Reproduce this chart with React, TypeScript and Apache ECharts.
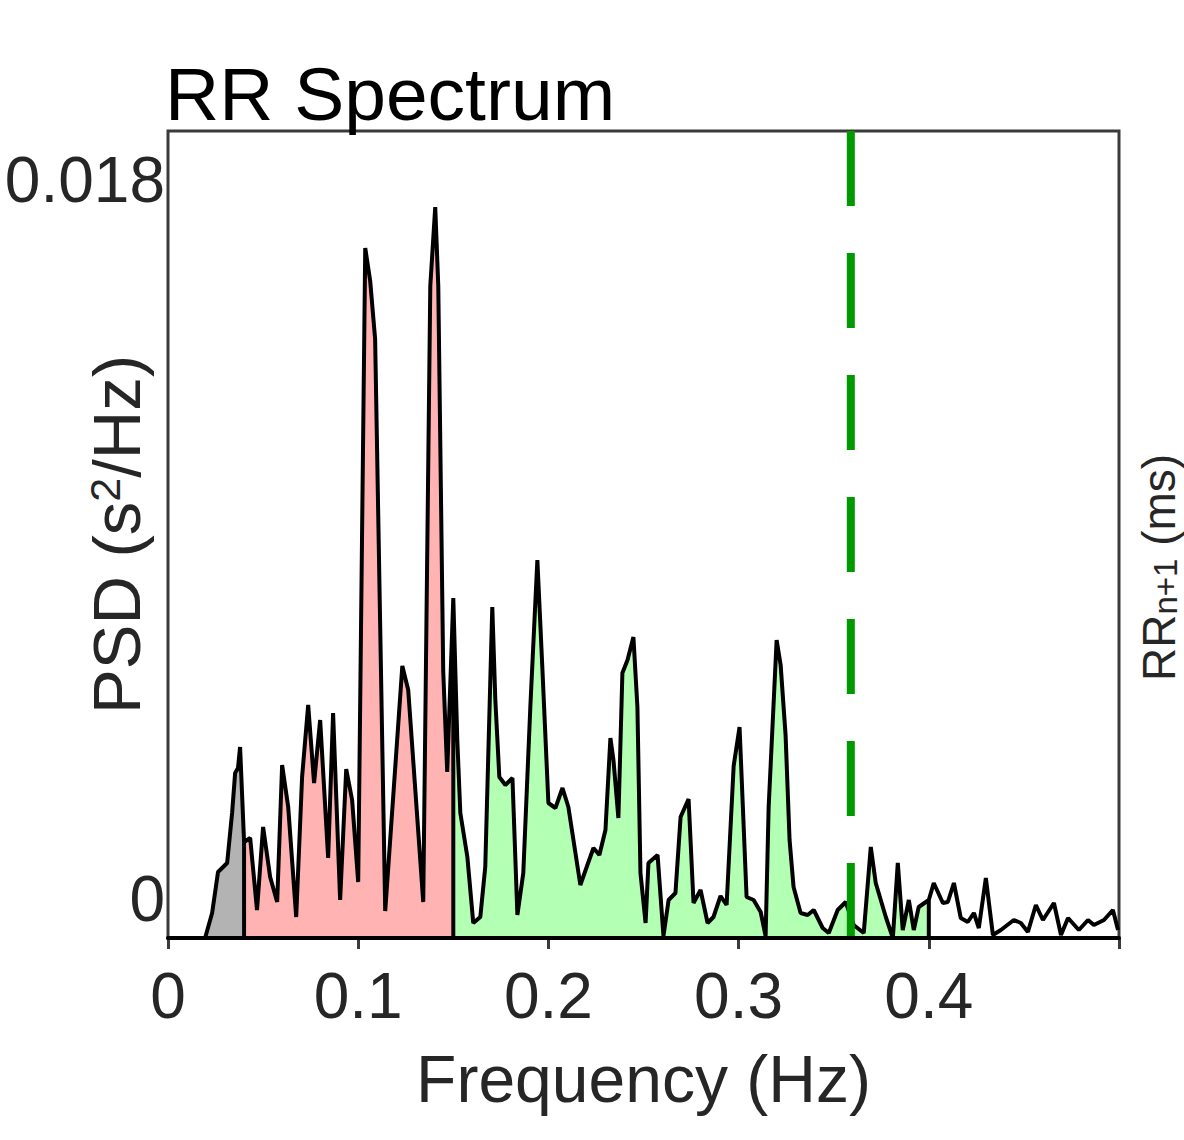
import React, { useEffect, useRef } from "react";
import * as echarts from "echarts";

// Frequency (Hz) of each spectrum vertex
const freqs = [
  0, 0.0195, 0.0232, 0.0263, 0.0311, 0.0337, 0.0353, 0.0368, 0.0379, 0.04,
  0.0432, 0.0468, 0.05, 0.0537, 0.0574, 0.06, 0.0632, 0.0674, 0.0705, 0.0737,
  0.0768, 0.08, 0.0842, 0.0868, 0.0905, 0.0937, 0.0968, 0.1, 0.1037, 0.1063,
  0.1089, 0.1142, 0.1232, 0.1263, 0.1342, 0.1379, 0.1405, 0.1421, 0.1447, 0.1468,
  0.15,
  0.1521, 0.1537, 0.1574, 0.1605, 0.1642, 0.1668, 0.1705, 0.1721, 0.1742, 0.1774,
  0.1811, 0.1837, 0.1868, 0.1905, 0.1942, 0.1968, 0.2, 0.2037, 0.2074, 0.2105,
  0.2168, 0.2205, 0.2237, 0.2268, 0.23, 0.2326, 0.2342, 0.2368, 0.2389, 0.2416,
  0.2447, 0.2468, 0.2484, 0.2511, 0.2526, 0.2574, 0.2605, 0.2632, 0.2668, 0.2695,
  0.2737, 0.2763, 0.28, 0.2837, 0.2868, 0.2905, 0.2937, 0.2974, 0.3005, 0.3042,
  0.3079, 0.3116, 0.3142, 0.3158, 0.32, 0.3221, 0.3247, 0.3268, 0.3289, 0.3326,
  0.3363, 0.3395, 0.3442, 0.3474, 0.3521, 0.3563, 0.3605, 0.3658, 0.3695, 0.3721,
  0.3774, 0.3811, 0.3837, 0.3863, 0.3895, 0.3921, 0.3947, 0.4,
  0.4026, 0.4074, 0.41, 0.4132, 0.4168, 0.4205, 0.4237, 0.4263, 0.43, 0.4337,
  0.4379, 0.4447, 0.4484, 0.4521, 0.4563, 0.46, 0.4658, 0.4695, 0.4732, 0.4789,
  0.4837, 0.4868, 0.4921, 0.4968, 0.4995,
];

// PSD (s^2/Hz) at each vertex
const psd = [
  0, 0, 0.000625, 0.00165, 0.001875, 0.003125, 0.004125, 0.00425, 0.004775, 0.0024,
  0.0025, 0.0007, 0.002775, 0.001525, 0.0009, 0.004325, 0.003275, 0.000525, 0.004025, 0.005825,
  0.003875, 0.00545, 0.002, 0.005625, 0.00095, 0.004225, 0.00345, 0.0014, 0.01725, 0.016425,
  0.014975, 0.000675, 0.0068, 0.0062, 0.0009, 0.0163, 0.018275, 0.0163, 0.006675, 0.00415,
  0.0085,
  0.00495, 0.003125, 0.002025, 0.000375, 0.000525, 0.001775, 0.008275, 0.00595, 0.004025, 0.003825,
  0.004, 0.000575, 0.001625, 0.005775, 0.00945, 0.006775, 0.003375, 0.00325, 0.00375, 0.003275,
  0.001325, 0.001825, 0.00225, 0.002075, 0.0027, 0.005, 0.00445, 0.003, 0.006625, 0.00695,
  0.007525, 0.005775, 0.001625, 0.000375, 0.001875, 0.002075, 0.00005, 0.00095, 0.001125, 0.003025,
  0.003475, 0.000875, 0.0012, 0.000375, 0.000525, 0.00105, 0.000825, 0.0043, 0.005275, 0.001025,
  0.00095, 0.00065, 0.00005, 0.003275, 0.00745, 0.006825, 0.005075, 0.00245, 0.001275, 0.000625,
  0.000575, 0.0007, 0.00025, 0.000125, 0.0007, 0.0009, 0.000325, 0.000125, 0.002275, 0.001375,
  0.000525, 0, 0.001875, 0.0002, 0.00095, 0.0002, 0.000775, 0.00095,
  0.001375, 0.000875, 0.0009, 0.001375, 0.0005, 0.0004, 0.000625, 0.00025, 0.0015, 0.000075,
  0.0002, 0.00045, 0.000375, 0.00015, 0.000825, 0.00045, 0.000875, 0.000075, 0.0005, 0.0002,
  0.00045, 0.000325, 0.00045, 0.0007, 0.0002,
];

// Frequency bands (VLF, LF, HF) and their fills
const bandEdges = [0, 0.04, 0.15, 0.4];
const bandNames = ["VLF", "LF", "HF"];
const bandColors = ["#b3b3b3", "#ffb3b3", "#b3ffb3"];

// Dashed marker frequency (Hz)
const markerFreq = [0.359];

// Axis ranges / ticks
const xMin = 0;
const xMax = 0.5;
const xInterval = 0.1;
const yMax = 0.020175;
const yTickValues = [0, 0.018];
const yTickLabels = ["0", "0.018"];

const FONT = "'Liberation Sans', Arial, Helvetica, sans-serif";

function pointsIn(lo: number, hi: number): number[][] {
  const out: number[][] = [];
  for (let i = 0; i < freqs.length; i++) {
    if (freqs[i] >= lo && freqs[i] <= hi) out.push([freqs[i], psd[i]]);
  }
  return out;
}

export default function App() {
  const ref = useRef<HTMLDivElement>(null);

  useEffect(() => {
    if (!ref.current) return;
    const chart = echarts.init(ref.current, null, { renderer: "svg" });

    const bandSeries: any[] = [];
    const outline: number[][] = [];
    for (let b = 0; b < bandNames.length; b++) {
      const lo = bandEdges[b];
      const hi = bandEdges[b + 1];
      const pts = [[lo, 0], ...pointsIn(lo, hi), [hi, 0]];
      outline.push(...pts);
      bandSeries.push({
        name: bandNames[b],
        type: "line",
        data: pts,
        symbol: "none",
        silent: true,
        lineStyle: { width: 0 },
        areaStyle: { color: bandColors[b], opacity: 1 },
        z: 2,
      });
    }
    const lastEdge = bandEdges[bandEdges.length - 1];
    pointsIn(lastEdge, xMax).forEach((p) => outline.push(p));

    const option: any = {
      animation: false,
      backgroundColor: "#ffffff",
      textStyle: { fontFamily: FONT },
      title: {
        text: "RR Spectrum",
        left: 165,
        top: 56,
        padding: 0,
        textStyle: { fontFamily: FONT, fontSize: 75, fontWeight: "normal", color: "#000" },
      },
      grid: {
        left: 168,
        top: 131,
        width: 951,
        height: 807,
        show: true,
        outerBoundsMode: "none",
        containLabel: false,
        borderColor: "#3a3a3a",
        borderWidth: 3,
        backgroundColor: "transparent",
      },
      xAxis: [
        {
          type: "value",
          min: xMin,
          max: xMax,
          interval: xInterval,
          position: "bottom",
          z: 5,
          axisLine: { show: true, onZero: false, lineStyle: { color: "#000", width: 4 } },
          axisTick: { show: false },
          splitLine: { show: false },
          axisLabel: {
            fontFamily: FONT,
            fontSize: 64,
            color: "#262626",
            margin: 26,
            formatter: (v: number) => (v >= xMax - 1e-9 ? "" : v === 0 ? "0" : v.toFixed(1)),
          },
          name: "Frequency (Hz)",
          nameLocation: "middle",
          nameGap: 108,
          nameMoveOverlap: false,
          nameTextStyle: { fontFamily: FONT, fontSize: 66, color: "#262626" },
        },
        {
          type: "value",
          min: xMin,
          max: xMax,
          interval: xInterval,
          position: "top",
          axisLine: { show: true, lineStyle: { color: "#3a3a3a", width: 3 } },
          axisTick: { show: true, inside: true, length: 11, lineStyle: { color: "#3a3a3a", width: 3 } },
          axisLabel: { show: false },
          splitLine: { show: false },
        },
      ],
      yAxis: [
        {
          type: "value",
          min: 0,
          max: yMax,
          show: false,
          splitLine: { show: false },
        },
        {
          type: "value",
          min: -0.000976,
          max: 0.019227,
          position: "left",
          axisLine: { show: false },
          axisTick: { show: false },
          splitLine: { show: false },
          axisLabel: {
            customValues: yTickValues,
            fontFamily: FONT,
            fontSize: 64,
            color: "#262626",
            margin: 3,
            formatter: (v: number) => {
              const i = yTickValues.findIndex((t) => Math.abs(t - v) < 1e-9);
              return i >= 0 ? yTickLabels[i] : "";
            },
          },
          name: "PSD (s{sup|2}/Hz)",
          nameLocation: "middle",
          nameGap: 18,
          nameMoveOverlap: false,
          nameTextStyle: {
            fontFamily: FONT,
            fontSize: 67,
            color: "#262626",
            rich: {
              sup: { fontFamily: FONT, fontSize: 43, color: "#262626", verticalAlign: "top" },
            },
          },
        },
      ],
      graphic: [
        {
          type: "text",
          x: 1182,
          y: 681,
          rotation: Math.PI / 2,
          silent: true,
          style: {
            text: "RR{sub|n+1} (ms)",
            fontFamily: FONT,
            fontSize: 46,
            fill: "#262626",
            align: "left",
            verticalAlign: "bottom",
            rich: {
              sub: { fontFamily: FONT, fontSize: 33, fill: "#262626", verticalAlign: "bottom" },
            },
          },
        },
      ],
      series: [
        ...bandSeries,
        {
          name: "PSD",
          type: "line",
          data: outline,
          symbol: "none",
          silent: true,
          lineStyle: { color: "#000", width: 4 },
          z: 3,
        },
        {
          name: "marker",
          type: "line",
          data: [
            [markerFreq[0], 0],
            [markerFreq[0], yMax],
          ],
          symbol: "none",
          silent: true,
          lineStyle: { color: "#009a00", width: 8, type: [75, 47] },
          z: 4,
        },
      ],
    };

    chart.setOption(option);
    return () => chart.dispose();
  }, []);

  return (
    <div
      ref={ref}
      style={{ position: "absolute", left: 0, top: 0, width: 1184, height: 1140 }}
    />
  );
}
